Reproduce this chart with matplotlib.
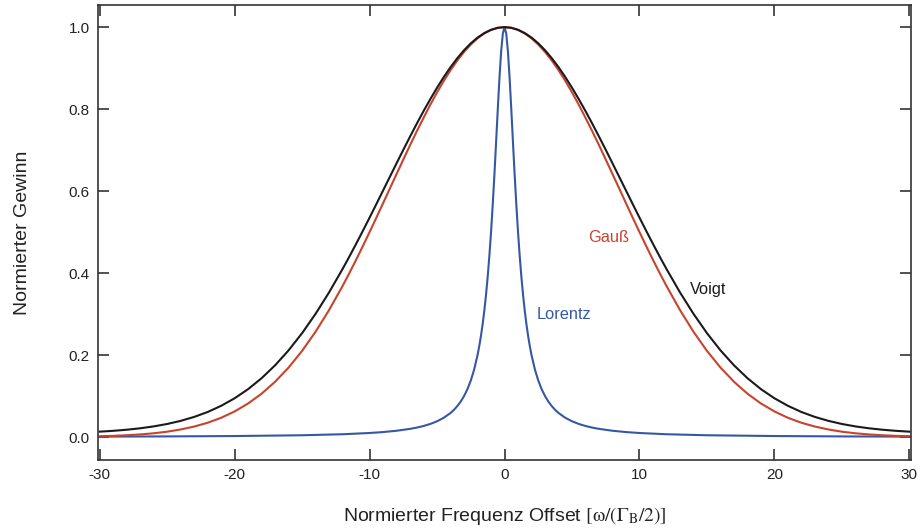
import numpy as np
import matplotlib.pyplot as plt

plt.rcParams['font.family'] = ['Liberation Sans', 'DejaVu Sans']
plt.rcParams['mathtext.fontset'] = 'stix'
plt.rcParams['axes.unicode_minus'] = False

# Curves are symmetric around 0, values read for x >= 0
x_gv = [0, 0.5, 1, 1.5, 2, 2.5, 3, 3.5, 4, 4.5, 5, 5.5, 6, 6.5, 7, 7.5,
        8, 8.5, 9, 9.5, 10, 10.5, 11, 11.5, 12, 13, 14, 15,
        16, 17, 18, 19, 20, 21, 22, 23, 24, 25, 26, 27, 28, 29, 30]
gauss = [1.0, 0.9983, 0.9931, 0.9845, 0.9727, 0.9576, 0.9395, 0.9186, 0.8950,
         0.8690, 0.8409, 0.8108, 0.7788, 0.7461, 0.7120, 0.6771, 0.6417,
         0.6061, 0.5704, 0.5350, 0.5000, 0.4657, 0.4323, 0.3998, 0.3686,
         0.3099, 0.2570, 0.2102, 0.1696,
         0.1350, 0.1058, 0.0819, 0.0625, 0.0470, 0.0349, 0.0256, 0.0185,
         0.0131, 0.0092, 0.0064, 0.0044, 0.0029, 0.0020]
voigt = [1.0, 0.9984, 0.9936, 0.9855, 0.9745, 0.9605, 0.9437, 0.9242, 0.9024,
         0.8783, 0.8522, 0.8244, 0.7952, 0.7646, 0.7330, 0.7007, 0.6678,
         0.6346, 0.6014, 0.5682, 0.5353, 0.5029, 0.4711, 0.4401, 0.4100,
         0.3530, 0.3007, 0.2535, 0.2116,
         0.1751, 0.1436, 0.1169, 0.0946, 0.0762, 0.0611, 0.0491, 0.0395,
         0.0319, 0.0260, 0.0214, 0.0179, 0.0152, 0.0132]

x_lor = [0, 0.125, 0.25, 0.375, 0.5, 0.625, 0.75, 0.875, 1.0, 1.125, 1.25,
         1.375, 1.5, 1.625, 1.75, 1.875, 2.0, 2.25, 2.5, 2.75, 3.0, 3.25,
         3.5, 3.75, 4.0, 4.5, 5.0, 5.5, 6.0, 6.5, 7.0, 8.0, 9.0, 10.0, 12.0,
         15.0, 20.0, 25.0, 30.0]
lorentz = [1.0, 0.9846, 0.9412, 0.8767, 0.8, 0.7191, 0.64, 0.5664, 0.5,
           0.4414, 0.3902, 0.3459, 0.3077, 0.2747, 0.2462, 0.2215, 0.2,
           0.1649, 0.1379, 0.1168, 0.1, 0.0865, 0.0755, 0.0664, 0.0588,
           0.0471, 0.0385, 0.0320, 0.0270, 0.0231, 0.02, 0.0154, 0.0122,
           0.0099, 0.0069, 0.0044, 0.0025, 0.0016, 0.0011]


def mirror(x, y):
    x = np.asarray(x, float)
    y = np.asarray(y, float)
    return np.concatenate([-x[:0:-1], x]), np.concatenate([y[:0:-1], y])


fig = plt.figure(figsize=(9.18, 5.32), dpi=100)
ax = fig.add_axes([0.1068, 0.1353, 0.8856, 0.8553])

xg, yg = mirror(x_gv, gauss)
xv, yv = mirror(x_gv, voigt)
xl, yl = mirror(x_lor, lorentz)

ax.plot(xl, yl, color='#3658a4', lw=1.5)
ax.plot(xg, yg, color='#c8432e', lw=1.5)
ax.plot(xv, yv, color='#1a1a1a', lw=1.5)

ax.text(7.7, 0.488, 'Gauß', color='#c8432e', fontsize=11.8, ha='center', va='center')
ax.text(15.1, 0.361, 'Voigt', color='#1a1a1a', fontsize=11.8, ha='center', va='center')
ax.text(4.4, 0.298, 'Lorentz', color='#3658a4', fontsize=11.8, ha='center', va='center')

ax.set_xlim(-30.12, 30.12)
ax.set_ylim(-0.056, 1.054)
ax.set_xticks([-30, -20, -10, 0, 10, 20, 30])
ax.set_yticks([0.0, 0.2, 0.4, 0.6, 0.8, 1.0])
ax.set_yticklabels(['0.0', '0.2', '0.4', '0.6', '0.8', '1.0'])
ax.tick_params(direction='in', length=8, width=1.1, top=True, right=True,
               labelsize=11, colors='#222222', pad=6)
for s in ax.spines.values():
    s.set_linewidth(1.2)
    s.set_color('#333333')

ax.set_xlabel(r'Normierter Frequenz Offset $[\mathrm{\omega}/(\Gamma_{\mathrm{B}}/2)]$',
              fontsize=14, color='#222222', labelpad=16)
ax.set_ylabel('Normierter Gewinn', fontsize=14, color='#222222', labelpad=27)

fig.savefig('out.png', dpi=100)
